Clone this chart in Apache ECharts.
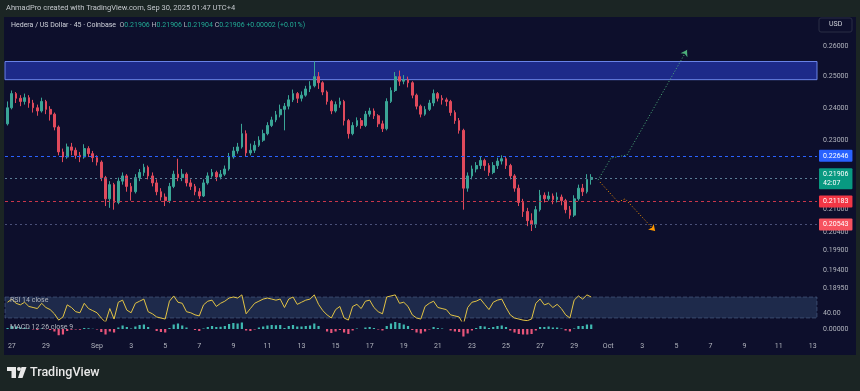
<!DOCTYPE html>
<html><head><meta charset="utf-8">
<script src="https://cdn.jsdelivr.net/npm/echarts@6/dist/echarts.min.js"></script>
<style>html,body{margin:0;padding:0;background:#1b2524;}#c{width:860px;height:391px;}</style>
</head><body><div id="c"></div>
<script>
// ---- data (time in days from Sep 1 00:00, UTC+4; 6h candles) ----
const startDay = -5.25;
const stepDay = 0.25;
const firstOpen = 0.2350;
const closes = [
 .2400,.2445,.2430,.2420,.2432,.2415,.2400,.2390,.2420,.2395,
 .2380,.2340,.2265,.2250,.2280,.2270,.2255,.2250,.2275,.2260,
 .2248,.2235,.2190,.2130,.2170,.2120,.2180,.2195,.2165,.2150,
 .2190,.2205,.2220,.2195,.2175,.2150,.2135,.2125,.2165,.2200,
 .2190,.2200,.2175,.2165,.2150,.2138,.2175,.2195,.2205,.2192,
 .2200,.2215,.2250,.2268,.2280,.2320,.2262,.2270,.2285,.2300,
 .2320,.2345,.2362,.2378,.2395,.2405,.2425,.2445,.2430,.2440,
 .2460,.2470,.2500,.2480,.2450,.2420,.2390,.2410,.2420,.2360,
 .2320,.2345,.2360,.2345,.2380,.2390,.2375,.2350,.2335,.2420,
 .2455,.2500,.2485,.2490,.2480,.2440,.2405,.2380,.2395,.2415,
 .2445,.2430,.2425,.2420,.2385,.2360,.2330,.2160,.2195,.2215,
 .2225,.2240,.2225,.2205,.2225,.2238,.2245,.2225,.2195,.2160,
 .2120,.2095,.2070,.2060,.2100,.2140,.2130,.2138,.2128,.2135,
 .2125,.2100,.2085,.2130,.2160,.2150,.2185,.21906];
const lows = [
 .2345,.2395,.2415,.2405,.2410,.2400,.2385,.2375,.2385,.2380,
 .2360,.2330,.2255,.2235,.2245,.2255,.2245,.2235,.2245,.2250,
 .2235,.2225,.2180,.2110,.2105,.2100,.2115,.2170,.2150,.2125,
 .2145,.2180,.2195,.2185,.2165,.2140,.2125,.2110,.2118,.2160,
 .2180,.2180,.2165,.2155,.2140,.2130,.2135,.2170,.2190,.2180,
 .2185,.2195,.2210,.2245,.2260,.2275,.2250,.2255,.2262,.2280,
 .2295,.2315,.2340,.2355,.2370,.2330,.2395,.2418,.2415,.2420,
 .2435,.2450,.2465,.2460,.2440,.2410,.2380,.2385,.2400,.2345,
 .2305,.2315,.2340,.2335,.2340,.2372,.2365,.2340,.2325,.2330,
 .2415,.2450,.2470,.2475,.2465,.2430,.2395,.2370,.2375,.2390,
 .2405,.2420,.2410,.2405,.2375,.2350,.2320,.2100,.2150,.2185,
 .2205,.2215,.2210,.2195,.2200,.2215,.2228,.2215,.2185,.2150,
 .2110,.2080,.2055,.2042,.2050,.2095,.2120,.2125,.2115,.2120,
 .2112,.2090,.2075,.2080,.2125,.2138,.2145,.2170];
const highs = [
 .2420,.2455,.2450,.2440,.2445,.2440,.2425,.2410,.2432,.2425,
 .2405,.2385,.2345,.2275,.2290,.2292,.2278,.2265,.2288,.2282,
 .2268,.2255,.2240,.2195,.2180,.2175,.2190,.2205,.2200,.2175,
 .2200,.2215,.2230,.2225,.2205,.2185,.2160,.2145,.2175,.2210,
 .2245,.2215,.2205,.2185,.2172,.2160,.2185,.2205,.2215,.2210,
 .2212,.2225,.2262,.2280,.2292,.2350,.2330,.2290,.2298,.2312,
 .2332,.2355,.2372,.2390,.2410,.2415,.2440,.2458,.2450,.2452,
 .2470,.2485,.2550,.2515,.2485,.2455,.2425,.2420,.2432,.2425,
 .2365,.2355,.2370,.2368,.2390,.2400,.2398,.2380,.2360,.2430,
 .2465,.2515,.2520,.2505,.2500,.2485,.2445,.2410,.2405,.2425,
 .2458,.2450,.2440,.2432,.2425,.2392,.2368,.2335,.2205,.2225,
 .2235,.2250,.2245,.2232,.2235,.2248,.2255,.2250,.2230,.2200,
 .2170,.2130,.2105,.2090,.2110,.2155,.2148,.2150,.2145,.2148,
 .2142,.2130,.2110,.2140,.2170,.2172,.2200,.2200];
const rsi = [
 60,66,58,55,60,52,50,48,58,50,46, 38,26,32, 55,50,42,40,58,48,44,40,
 30,22,48,28, 60,64,45,40,58,62,66, 42,38,32,30,28, 62,72,60, 58,42,40,36,34,
 55,62,64,52,58,62,68,70,68,74,38, 48,58,62,66,68,66,64,66,50,66,70,56,60,64,66,
 74,56,44,36,30,46,52, 30,26,52,56,48,62,64,50,42,38, 70,72,74,58,60,52,
 36,30,28,52,58, 62,50,48,46,36,34,32, 18, 50,60,62,66,56,46,60,64,66,50,
 36,30,28,26,25,28, 58,66,55,58,50,56,48,36,30, 64,72,66,74,70];
const macdHist = [
 0.0004,0.0012,0.0010,0.0006,0.0005,0.0002,-0.0002,-0.0004,0.0002,-0.0001,-0.0004,
 -0.0010,-0.0025,-0.0022,
 -0.0008,-0.0003,-0.0002,-0.0003,0.0004,0.0003,0.0001,-0.0002,
 -0.0012,-0.0022,-0.0010,-0.0014,
 0.0006,0.0014,0.0008,0.0002,0.0010,0.0016,0.0018,
 0.0008,0.0000,-0.0008,-0.0012,-0.0014,
 0.0004,0.0018,0.0022,
 0.0014,0.0006,0.0000,-0.0004,-0.0008,
 0.0002,0.0008,0.0012,0.0008,0.0009,0.0012,0.0020,0.0024,0.0022,0.0026,-0.0006,
 -0.0008,-0.0002,0.0006,0.0010,0.0014,0.0016,0.0015,0.0016,0.0004,0.0012,0.0016,0.0010,0.0010,0.0012,0.0014,
 0.0022,0.0012,0.0000,-0.0010,-0.0016,-0.0010,-0.0004,
 -0.0014,-0.0020,-0.0006,0.0002,0.0000,0.0006,0.0008,0.0004,-0.0002,-0.0006,
 0.0012,0.0022,0.0028,0.0024,0.0018,0.0012,
 -0.0004,-0.0014,-0.0018,-0.0010,-0.0002,
 0.0008,0.0004,0.0002,0.0000,-0.0006,-0.0010,-0.0012,
 -0.0030,
 -0.0018,-0.0006,0.0004,0.0012,0.0010,0.0004,0.0008,0.0012,0.0014,0.0008,
 -0.0006,-0.0014,-0.0020,-0.0022,-0.0022,-0.0020,
 -0.0006,0.0008,0.0008,0.0010,0.0006,0.0006,0.0002,-0.0006,-0.0010,
 0.0002,0.0012,0.0012,0.0018,0.0018];
const priceTicks = [0.26,0.25,0.24,0.23,0.21,0.204,0.199,0.194,0.1895];
const dateTicks = [-5,-3,0,2,4,6,8,10,12,14,16,18,20,22,24,26,28,30,32,34,36,38,40,42];
const zoneBand = [0.2490, 0.2550];
const levelPrices = [0.22646, 0.21906, 0.21183, 0.20543];
const levelLabels = ['0.22646', '0.21906\n42:07', '0.21183', '0.20543'];
const greenPath = [[29.40,0.2183],[30.16,0.2247],[31.10,0.2256],[34.62,0.2589]];
const orangePath = [[29.52,0.2177],[30.58,0.2121],[30.99,0.2130],[32.75,0.2042]];

// ---- build ----
const L = Math.log;
const candles = closes.map((c,i)=>{
  const o = i===0 ? firstOpen : closes[i-1];
  return [startDay+i*stepDay, L(o), L(c), L(lows[i]), L(highs[i])];
});
const rsiData = rsi.map((v,i)=>[startDay+i*stepDay, v]);
const macdData = macdHist.map((v,i)=>[startDay+i*stepDay, v]);
const lnRef = L(0.26), pxPerLn = 763;
const yMax = lnRef + (46.7-18)/pxPerLn, yMin = lnRef - (292-46.7)/pxPerLn;
const xMin = -5.4, xMax = 42.25;
const MONTHS = ['Jan','Feb','Mar','Apr','May','Jun','Jul','Aug','Sep','Oct','Nov','Dec'];
const AX = '#b2b5be', FS = 7, FF = 'Roboto, "Noto Sans", sans-serif';
const levelStyles = [
  {line:'#2962ff', bg:'#2962ff', type:[3,3]},
  {line:'#5b7d95', bg:'#089981', type:[2,3]},
  {line:'#c8364a', bg:'#f23645', type:[3,3]},
  {line:'#4a5078', bg:'#f7525f', type:[2,3]}
];
function xAx(i, show){
  return {type:'value', gridIndex:i, min:xMin, max:xMax, axisLine:{show:false}, axisTick:{show:false}, splitLine:{show:false},
    axisLabel:{show:show, customValues:dateTicks, color:AX, fontSize:FS, fontFamily:FF, margin:6,
      formatter:v=>{const d=new Date(Date.UTC(2025,8,1)+Math.round(v)*864e5); return d.getUTCDate()===1?MONTHS[d.getUTCMonth()]:String(d.getUTCDate());}}};
}
const chart = echarts.init(document.getElementById('c'), null, {renderer:'canvas'});
chart.setOption({
  animation:false,
  backgroundColor:'#1b2524',
  textStyle:{fontFamily:FF},
  grid:[
    {left:5, right:43, top:18, height:274},
    {left:5, right:43, top:292, height:29},
    {left:5, right:43, top:321, height:16}
  ],
  xAxis:[xAx(0,false), xAx(1,false), xAx(2,true)],
  yAxis:[
    {type:'value', gridIndex:0, position:'right', min:yMin, max:yMax, splitLine:{show:false}, axisLine:{show:false}, axisTick:{show:false},
      axisLabel:{customValues:priceTicks.map(p=>L(p)), color:AX, fontSize:FS, fontFamily:FF, margin:6, formatter:v=>Math.exp(v).toFixed(5)}},
    {type:'value', gridIndex:1, position:'right', min:24.3, max:79.5, splitLine:{show:false}, axisLine:{show:false}, axisTick:{show:false},
      axisLabel:{customValues:[40], color:AX, fontSize:FS, fontFamily:FF, margin:6, formatter:v=>v.toFixed(2)}},
    {type:'value', gridIndex:2, position:'right', min:-0.0032, max:0.0032, splitLine:{show:false}, axisLine:{show:false}, axisTick:{show:false},
      axisLabel:{customValues:[0], color:AX, fontSize:FS, fontFamily:FF, margin:6, formatter:v=>v.toFixed(5)}}
  ],
  graphic:[
    {type:'rect', z:-100, shape:{x:4,y:17,width:852,height:338}, style:{fill:'#0d0f2c'}},
    {type:'text', z:100, left:6, top:4, style:{text:'AhmadPro created with TradingView.com, Sep 30, 2025 01:47 UTC+4', fill:'#c3c7cc', font:'7.5px '+FF}},
    {type:'text', z:100, left:11, top:22, style:{
      text:'{n|Hedera / US Dollar · 45 · Coinbase}  {k|O}{v|0.21906} {k|H}{v|0.21906} {k|L}{v|0.21904} {k|C}{v|0.21906} {v|+0.00002 (+0.01%)}',
      font:'7px '+FF, rich:{n:{fill:'#d1d4dc', font:'7px '+FF}, k:{fill:'#b2b5be', font:'7px '+FF}, v:{fill:'#22ab94', font:'7px '+FF}}}},
    {type:'rect', z:100, shape:{x:819,y:18,width:33,height:14,r:2}, style:{fill:'#0d0f2c', stroke:'#2a2e45', lineWidth:1}},
    {type:'text', z:101, left:829, top:21, style:{text:'USD', fill:'#d1d4dc', font:'7px '+FF}},
    {type:'text', z:100, left:10, top:297, style:{text:'RSI 14 close', fill:'#b2b5be', font:'7px '+FF}},
    {type:'text', z:100, left:10, top:324, style:{text:'MACD 12 26 close 9', fill:'#b2b5be', font:'7px '+FF}},
    {type:'rect', z:100, shape:{x:7,y:367,width:9,height:4}, style:{fill:'#e8e8e8'}},
    {type:'rect', z:100, shape:{x:11.5,y:367,width:4.5,height:11}, style:{fill:'#e8e8e8'}},
    {type:'circle', z:100, shape:{cx:19,cy:369,r:2}, style:{fill:'#e8e8e8'}},
    {type:'polygon', z:100, shape:{points:[[21.5,367],[26.5,367],[22.5,378],[18,378]]}, style:{fill:'#e8e8e8'}},
    {type:'text', z:100, left:30, top:366, style:{text:'TradingView', fill:'#e8e8e8', font:'500 12.5px '+FF}}
  ],
  series:[
    {type:'candlestick', xAxisIndex:0, yAxisIndex:0, data:candles, encode:{x:0, y:[1,2,3,4]}, barWidth:2.2,
      itemStyle:{color:'#3aa596', color0:'#e04a5c', borderColor:'#3aa596', borderColor0:'#e04a5c', borderWidth:1},
      markArea:{silent:true, itemStyle:{color:'rgba(40,60,200,0.6)', borderColor:'#6a84e8', borderWidth:1},
        data:[[{yAxis:L(zoneBand[1])},{yAxis:L(zoneBand[0])}]]},
      markLine:{silent:true, symbol:['none','none'],
        data: levelPrices.map((p,i)=>({yAxis:L(p),
          lineStyle:{color:levelStyles[i].line, type:levelStyles[i].type, width:1},
          label:{show:true, position:'end', distance:2, formatter:levelLabels[i], color:'#ffffff', fontSize:FS, fontFamily:FF,
            lineHeight:9, backgroundColor:levelStyles[i].bg, padding:[2,4,1,4], borderRadius:1}}))}
    },
    {type:'line', xAxisIndex:0, yAxisIndex:0, data:greenPath.map((d,i)=>({value:[d[0],L(d[1])], symbol:i===greenPath.length-1?'arrow':'circle', symbolSize:i===greenPath.length-1?6:0, symbolRotate:-30})),
      lineStyle:{color:'#4caf7a', width:1, type:[1,2]}, itemStyle:{color:'#4caf7a'}},
    {type:'line', xAxisIndex:0, yAxisIndex:0, data:orangePath.map((d,i)=>({value:[d[0],L(d[1])], symbol:i===orangePath.length-1?'arrow':'circle', symbolSize:i===orangePath.length-1?6:0, symbolRotate:-135})),
      lineStyle:{color:'#ff9800', width:1, type:[1,2]}, itemStyle:{color:'#ff9800'}},
    {type:'line', xAxisIndex:1, yAxisIndex:1, data:rsiData, symbol:'none', lineStyle:{color:'#e3c445', width:1},
      markArea:{silent:true, itemStyle:{color:'rgba(70,105,150,0.3)', borderColor:'rgba(120,150,190,0.35)', borderWidth:1, borderType:'dashed'},
        data:[[{yAxis:70},{yAxis:30}]]}},
    {type:'bar', xAxisIndex:2, yAxisIndex:2, data:macdData, barWidth:2.2,
      itemStyle:{color:p=>p.value[1]>=0?'#3fb8b0':'#e8557a'}}
  ]
});
</script></body></html>
